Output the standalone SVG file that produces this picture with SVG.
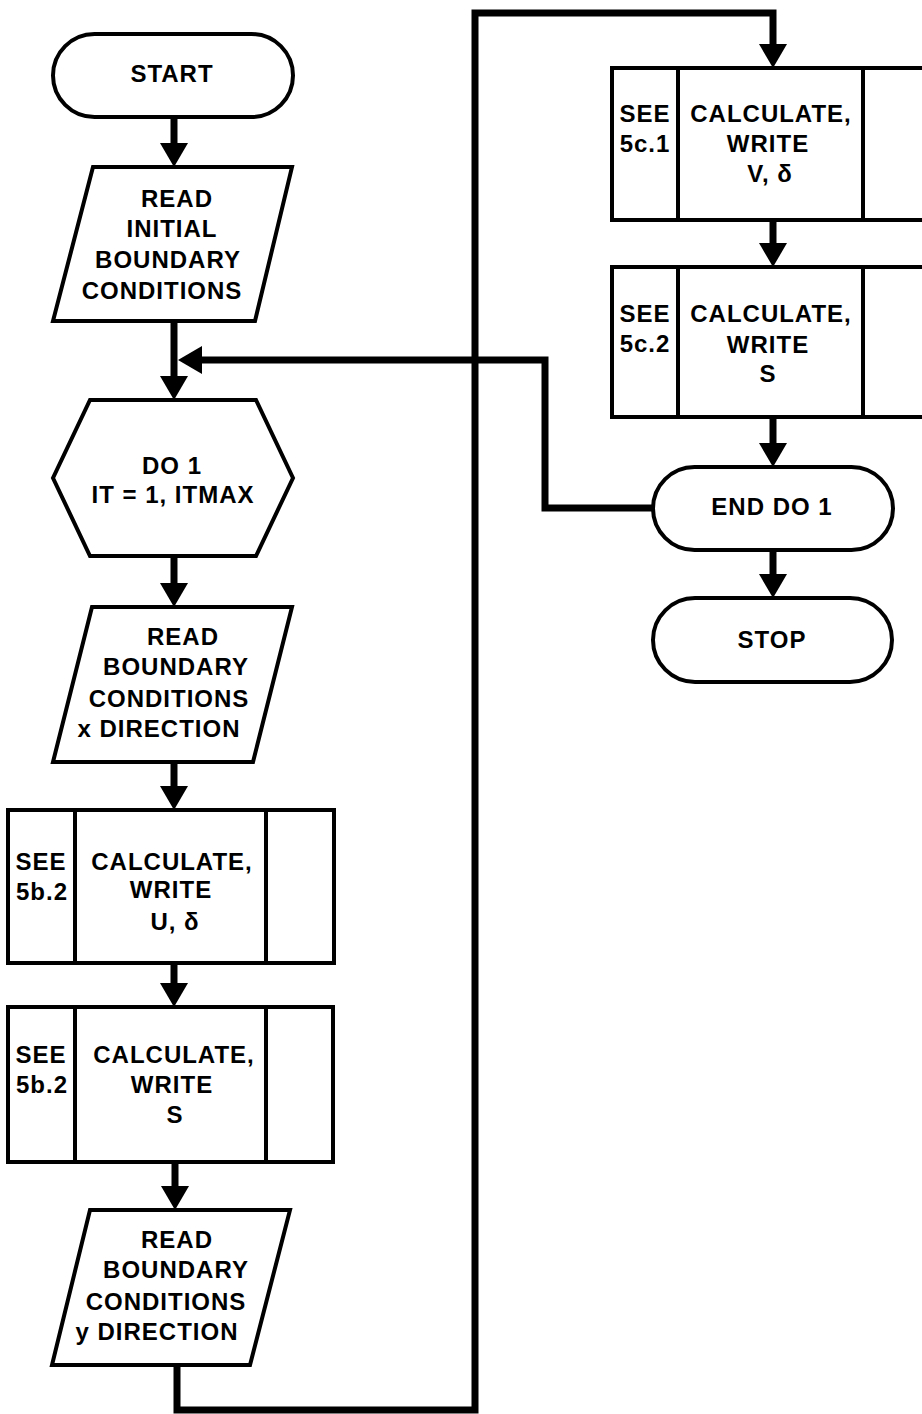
<svg xmlns="http://www.w3.org/2000/svg" width="922" height="1414" viewBox="0 0 922 1414">
<style>
.box{fill:#fff;stroke:#000;stroke-width:4;stroke-linejoin:miter}
.div{stroke:#000;stroke-width:4}
.con{fill:none;stroke:#000;stroke-width:7;stroke-linejoin:miter}
text{font-family:"Liberation Sans",Arial,sans-serif;font-weight:bold;font-size:24px;letter-spacing:1px;fill:#000;text-anchor:middle}
</style>
<defs>
<marker id="ah" viewBox="0 0 24 28" refX="0" refY="14" markerWidth="24" markerHeight="28" orient="auto" markerUnits="userSpaceOnUse">
<path d="M0,0 L24,14 L0,28 Z" fill="#000"/>
</marker>
</defs>
<g id="connectors">
<path class="con" d="M174,117 V143" marker-end="url(#ah)"/>
<path class="con" d="M174,321 V376" marker-end="url(#ah)"/>
<path class="con" d="M174,556 V583" marker-end="url(#ah)"/>
<path class="con" d="M174,762 V786" marker-end="url(#ah)"/>
<path class="con" d="M174,963 V983" marker-end="url(#ah)"/>
<path class="con" d="M175,1162 V1186" marker-end="url(#ah)"/>
<path class="con" d="M177,1365 V1410 H475 V13 H773 V44" marker-end="url(#ah)"/>
<path class="con" d="M773,220 V243" marker-end="url(#ah)"/>
<path class="con" d="M773,417 V443" marker-end="url(#ah)"/>
<path class="con" d="M773,550 V574" marker-end="url(#ah)"/>
<path class="con" d="M653,508 H545 V360 H202" marker-end="url(#ah)"/>
</g>
<g id="start">
<rect class="box" x="53" y="34" width="240" height="83" rx="41.5"/>
<text x="172" y="82">START</text>
</g>
<g id="read-initial">
<polygon class="box" points="93,167 292,167 255,321 53,321"/>
<text x="177" y="207">READ</text>
<text x="172" y="237">INITIAL</text>
<text x="168" y="268">BOUNDARY</text>
<text x="162" y="299">CONDITIONS</text>
</g>
<g id="do1">
<polygon class="box" points="90,400 256,400 293,478 256,556 90,556 53,478"/>
<text x="172" y="474">DO 1</text>
<text x="173" y="503">IT = 1, ITMAX</text>
</g>
<g id="read-x">
<polygon class="box" points="92,607 292,607 253,762 53,762"/>
<text x="183" y="645">READ</text>
<text x="176" y="675">BOUNDARY</text>
<text x="169" y="707">CONDITIONS</text>
<text x="159" y="737">x DIRECTION</text>
</g>
<g id="calc-u">
<rect class="box" x="8" y="810" width="326" height="153"/>
<line class="div" x1="75" y1="810" x2="75" y2="963"/>
<line class="div" x1="266" y1="810" x2="266" y2="963"/>
<text x="41" y="870">SEE</text>
<text x="42" y="900">5b.2</text>
<text x="172" y="870">CALCULATE,</text>
<text x="171" y="898">WRITE</text>
<text x="175" y="930">U, δ</text>
</g>
<g id="calc-s-x">
<rect class="box" x="8" y="1007" width="325" height="155"/>
<line class="div" x1="75" y1="1007" x2="75" y2="1162"/>
<line class="div" x1="266" y1="1007" x2="266" y2="1162"/>
<text x="41" y="1063">SEE</text>
<text x="42" y="1093">5b.2</text>
<text x="174" y="1063">CALCULATE,</text>
<text x="172" y="1093">WRITE</text>
<text x="175" y="1123">S</text>
</g>
<g id="read-y">
<polygon class="box" points="90,1210 290,1210 250,1365 52,1365"/>
<text x="177" y="1248">READ</text>
<text x="176" y="1278">BOUNDARY</text>
<text x="166" y="1310">CONDITIONS</text>
<text x="157" y="1340">y DIRECTION</text>
</g>
<g id="calc-v">
<rect class="box" x="612" y="68" width="320" height="152"/>
<line class="div" x1="678" y1="68" x2="678" y2="220"/>
<line class="div" x1="863" y1="68" x2="863" y2="220"/>
<text x="645" y="122">SEE</text>
<text x="645" y="152">5c.1</text>
<text x="771" y="122">CALCULATE,</text>
<text x="768" y="152">WRITE</text>
<text x="770" y="182">V, δ</text>
</g>
<g id="calc-s-y">
<rect class="box" x="612" y="267" width="320" height="150"/>
<line class="div" x1="678" y1="267" x2="678" y2="417"/>
<line class="div" x1="863" y1="267" x2="863" y2="417"/>
<text x="645" y="322">SEE</text>
<text x="645" y="352">5c.2</text>
<text x="771" y="322">CALCULATE,</text>
<text x="768" y="353">WRITE</text>
<text x="768" y="382">S</text>
</g>
<g id="end-do1">
<rect class="box" x="653" y="467" width="240" height="83" rx="41.5"/>
<text x="772" y="515">END DO 1</text>
</g>
<g id="stop">
<rect class="box" x="653" y="598" width="239" height="84" rx="42"/>
<text x="772" y="648">STOP</text>
</g>
</svg>
